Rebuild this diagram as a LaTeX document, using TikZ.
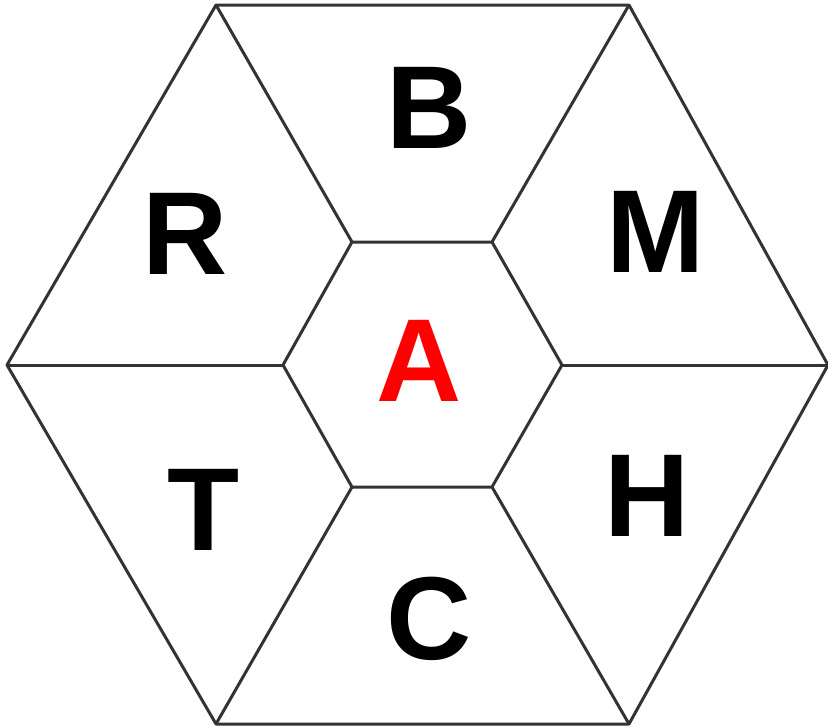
\documentclass[tikz,border=0pt]{standalone}
\usepackage{fontspec}
\setmainfont{Liberation Sans}
\begin{document}
\begin{tikzpicture}[
    x=1pt, y=-1pt,
    line width=3pt, line join=round,
    every node/.style={font=\fontsize{118}{118}\selectfont\bfseries,inner sep=0pt}]
    \useasboundingbox (0,0) rectangle (828,728);
    % Vertices del hexagono exterior e interior.
    \coordinate (o1) at (216,5);   \coordinate (o2) at (629,5);
    \coordinate (o3) at (828,365); \coordinate (o4) at (629,724);
    \coordinate (o5) at (216,724); \coordinate (o6) at (7,365);
    \coordinate (i1) at (352,242); \coordinate (i2) at (492,242);
    \coordinate (i3) at (562,365); \coordinate (i4) at (492,487);
    \coordinate (i5) at (352,487); \coordinate (i6) at (283,365);

    \draw[black!80] (o1) -- (o2) -- (o3) -- (o4) -- (o5) -- (o6) -- cycle
        (i1) -- (i2) -- (i3) -- (i4) -- (i5) -- (i6) -- cycle;
    \foreach \k in {1,...,6} {
        \draw[black!80] (i\k) -- (o\k);
    }

    \node[red] (a) at (419,361) {A};
    \node (b) at (429,108) {B};
    \node (m) at (656,232) {M};
    \node (h) at (647,496) {H};
    \node (c) at (429,619) {C};
    \node (t) at (204,510) {T};
    \node (r) at (185,234) {R};
\end{tikzpicture}
\end{document}
